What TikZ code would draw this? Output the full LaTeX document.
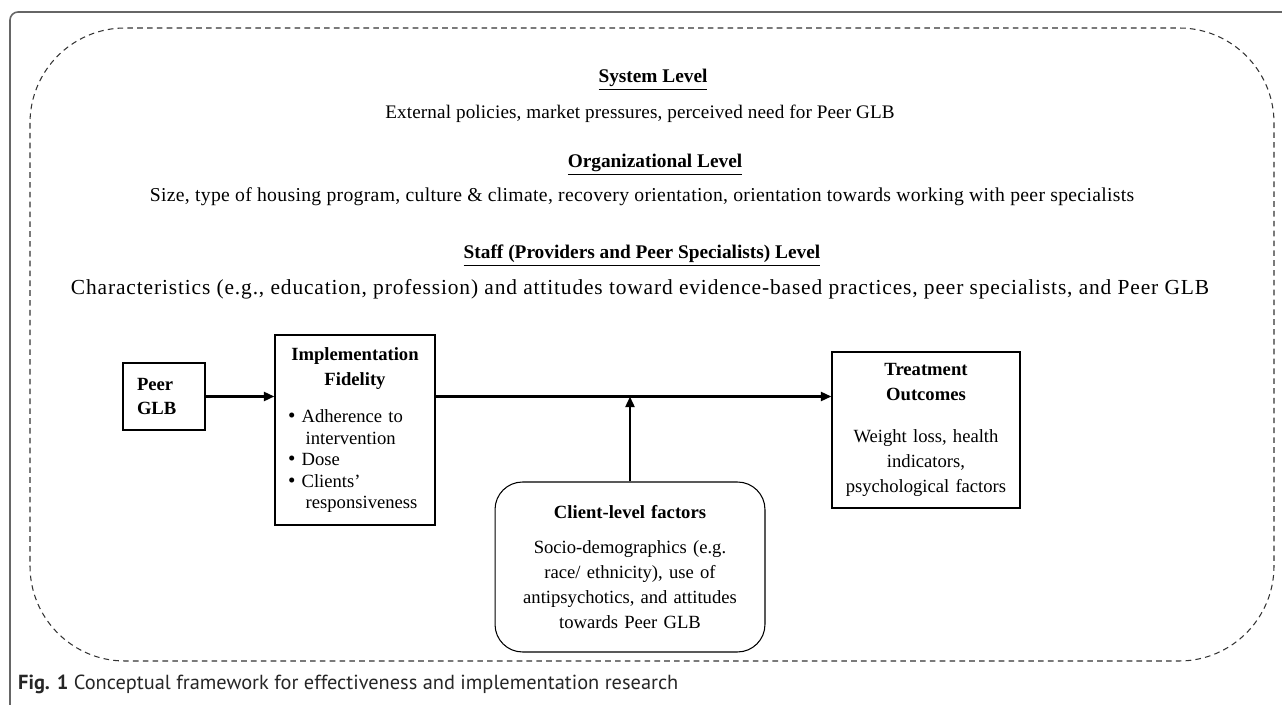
\documentclass[tikz,border=0pt]{standalone}
\usepackage{fontspec}
\setmainfont{Liberation Serif}
\newfontfamily\capfont{PT Sans}
\usetikzlibrary{arrows.meta,positioning}

\begin{document}
\begin{tikzpicture}[
  x=0.02cm, y=-0.02cm,
  >={Triangle[length=6pt,width=5pt]},
  every node/.style={font=\fontsize{10.6}{14.2}\selectfont},
  level/.style={font=\fontsize{11}{14.2}\selectfont\bfseries},
  box/.style={draw, line width=0.6pt, inner ysep=4pt},
  link/.style={->, line width=1.6pt},
  frame/.style={draw=black!60, line width=0.9pt, rounded corners=0.16cm},
  region/.style={draw=black!80, dash pattern=on 3.2pt off 2.4pt, line width=0.6pt, rounded corners=1.9cm},
]
  \useasboundingbox (0,0) rectangle (1282,705);

  % Figure frame and outer dashed region
  \draw[frame] (1282,12) -- (10,12) -- (10,705);
  \draw[region] (30,28) rectangle (1274,661);

  % Levels
  \node[level] (sys) at (653,80) {\underline{System Level}};
  \node[font=\fontsize{10.9}{14}\selectfont] (sysd) at (640,114)
    {\addfontfeatures{LetterSpace=0.7}External policies, market pressures, perceived need for Peer GLB};
  \node[level] (org) at (655,165) {\underline{Organizational Level}};
  \node[font=\fontsize{11.2}{14}\selectfont] (orgd) at (642,197)
    {\addfontfeatures{LetterSpace=1.6}Size, type of housing program, culture \& climate, recovery orientation, orientation towards working with peer specialists};
  \node[level] (staff) at (642,256) {\underline{Staff (Providers and Peer Specialists) Level}};
  \node[font=\fontsize{12.2}{14}\selectfont] (staffd) at (640,289)
    {\addfontfeatures{LetterSpace=4}Characteristics (e.g., education, profession) and attitudes toward evidence-based practices, peer specialists, and Peer GLB};

  % Boxes
  \node[box, inner xsep=0.28cm, text width=1.08cm, minimum height=1.34cm, align=left, font=\fontsize{10.6}{14.2}\selectfont\bfseries]
    (peer) at (164,396.5) {Peer\\GLB};
  \node[box, inner xsep=0.26cm, text width=2.68cm, minimum height=3.8cm]
    (impl) at (355,430) {\centering\textbf{Implementation}\\\textbf{Fidelity}\par
      \vspace{9pt}\raggedright\baselineskip=12.2pt
      {\large\textbullet}\ Adherence to\\\hspace*{0.95em}intervention\\
      {\large\textbullet}\ Dose\\
      {\large\textbullet}\ Clients'\\\hspace*{0.95em}responsiveness\par};
  \node[box, inner xsep=0.18cm, text width=3.4cm, minimum height=3.12cm]
    (treat) at (926,430) {\centering\textbf{Treatment}\\\textbf{Outcomes}\par
      \vspace{10pt}Weight loss, health\\indicators,\\psychological factors\par};
  \node[box, rounded corners=0.55cm, inner xsep=0.4cm, text width=4.6cm, minimum height=3.4cm]
    (client) at (630,567) {\centering\textbf{Client-level factors}\par
      \vspace{6pt}Socio-demographics (e.g.\\race/ ethnicity), use of\\antipsychotics, and attitudes\\towards Peer GLB\par};

  % Arrows
  \draw[link] (peer.east) -- (impl.west |- peer.east);
  \draw[link] (impl.east |- peer.east) -- (treat.west |- peer.east);
  \draw[link] (client.north) -- (client.north |- peer.east);

  % Caption
  \node[anchor=west, text=black!85, font=\capfont\fontsize{11.6}{13}\selectfont]
    (cap) at (12,684) {\textbf{Fig. 1} Conceptual framework for effectiveness and implementation research};
\end{tikzpicture}
\end{document}
